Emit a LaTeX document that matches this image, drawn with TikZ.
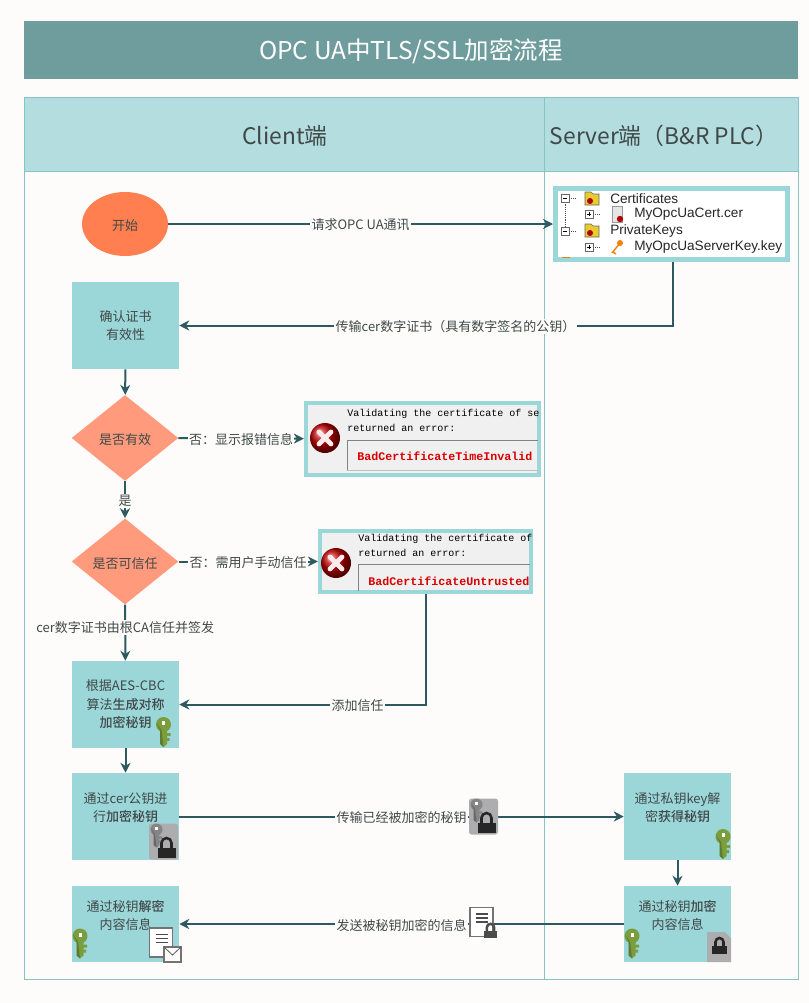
\documentclass[tikz,border=0pt]{standalone}
\usepackage{fontspec}
\setmainfont{Noto Sans CJK SC}[BoldFont={Noto Sans CJK SC Medium}]
\newfontfamily\errfont{Liberation Mono}
\newfontfamily\treefont{Liberation Sans}
\usetikzlibrary{arrows.meta,shapes.geometric}

\definecolor{bgc}{HTML}{FDFCFB}
\definecolor{titlec}{HTML}{6F9C9C}
\definecolor{headc}{HTML}{B4DDE0}
\definecolor{linec}{HTML}{86C4C6}
\definecolor{boxc}{HTML}{9BD6D8}
\definecolor{startc}{HTML}{FF7F50}
\definecolor{diac}{HTML}{FF9B7C}
\definecolor{connc}{HTML}{2C5A60}
\definecolor{txtc}{HTML}{404848}
\definecolor{keyc}{HTML}{7A9E3E}
\definecolor{tilec}{HTML}{ADADB0}
\definecolor{errc}{HTML}{F0F0F0}
\definecolor{errline}{HTML}{80848A}

\tikzset{
        downtxt/.style={execute at begin node={\rule{0pt}{#1}}},
        lab/.style={fill=bgc,inner sep=1pt,text=txtc,yshift=-0.8pt,font=\fontsize{9.75}{12}\selectfont},
        conn/.style={draw=connc,line width=1.5pt,-{Stealth[length=7.5pt,width=7.5pt]}},
        procbox/.style={fill=boxc,text=txtc,align=center,inner sep=0pt,minimum width=80.25pt,downtxt=10.8pt,font=\fontsize{9.75}{13.8}\selectfont},
        dec/.style={diamond,fill=diac,text=txtc,aspect=1.23,inner sep=0pt,minimum width=80pt,minimum height=64.5pt,downtxt=10.8pt,font=\fontsize{9.75}{12}\selectfont},
        imgbox/.style={draw=boxc,line width=3pt,inner sep=0pt},
        headtxt/.style={text=txtc,font=\fontsize{17.1}{20}\selectfont},
        errtxt/.style={anchor=west,inner sep=0pt,font=\errfont\fontsize{7.5}{9}\selectfont},
        errred/.style={anchor=west,inner sep=0pt,text=red!85!black,font=\errfont\bfseries\fontsize{8.75}{10}\selectfont},
        treetxt/.style={anchor=west,inner sep=0pt,text=black!85,font=\treefont\fontsize{10.2}{11}\selectfont},
        pics/keyicon/.style={code={
                \fill[#1] (0,-7.5) circle (7.5);
                \fill[#1] (-3.5,-2) -- (3.5,-2) -- (3.5,12) -- (0,15) -- (-3.5,12) -- cycle;
                \fill[#1] (3,1) rectangle (7,4) (3,6) rectangle (6,9);
                \fill[black,opacity=0.22] (-7,-9) -- (-3.5,-2) -- (-3.5,12) -- (0,15) -- (-2,-2) -- cycle;
                \fill[white] (-1.5,-11) rectangle (1.5,-7);
        }},
        pics/lockicon/.style={code={
                \draw[#1,line width=1.9pt] (-5,0) -- (-5,-5) arc (180:360:5) -- (5,0);
                \fill[#1] (-9,0) rectangle (9,10);
        }},
        pics/lockkey/.style={code={
                \fill[tilec,rounded corners=2pt] (-14.5,-18) rectangle (14.5,18);
                \pic[scale=0.8] at (-7,-6) {keyicon=black!48};
                \pic at (3,6.5) {lockicon=black!85};
        }},
        pics/docicon/.style={code={
                \draw[fill=white,draw=black!55,line width=0.9pt] (-12,-14.5) rectangle (11,14.5);
                \foreach \y in {-8,-4,0}
                \draw[black!70,line width=1pt] (-6,\y) -- (6,\y);
        }},
        pics/erricon/.style={code={
                \shade[ball color=red!75!black] (0,0) circle (15);
                \draw[white!92!red,line width=3.6pt,line cap=round] (-6,-6) -- (6,6) (-6,6) -- (6,-6);
        }},
        pics/foldicon/.style={code={
                \fill[yellow!60!brown,draw=black!60,line width=0.4pt] (-7,-7) -- (-1,-7) -- (1,-5) -- (7,-5) -- (7,6) -- (-7,6) -- cycle;
                \fill[red!70!black] (-2,2) circle (3);
        }},
        pics/expandbox/.style={code={
                \draw[black!60,fill=white,line width=0.4pt] (-4,-4) rectangle (4,4);
                \draw[black,line width=0.4pt] (-2,0) -- (2,0) #1;
                \draw[black!70,densely dotted,line width=0.4pt] (4,0) -- (10,0);
        }},
}

\begin{document}
\begin{tikzpicture}[x=0.75pt,y=-0.75pt]
        \useasboundingbox (0,0) rectangle (809,1003);
        \fill[bgc] (0,0) rectangle (809,1003);

        \node[fill=titlec,text=white,inner sep=0pt,minimum width=580.5pt,minimum height=43.5pt,downtxt=19pt,font=\fontsize{18.4}{22}\selectfont] (title) at (411,49.5) {OPC UA中TLS/SSL加密流程};

        \fill[headc] (24,97) rectangle (798,171);
        \draw[linec,line width=0.75pt] (24,97) rectangle (798,979);
        \draw[linec,line width=0.75pt] (24,171) -- (798,171);
        \draw[linec,line width=0.75pt] (544.5,97) -- (544.5,979);
        \node[headtxt] (clienthead) at (285,136) {Client端};
        \node[headtxt] (serverhead) at (664,136) {Server端（B\&R PLC）};

        \node[ellipse,fill=startc,text=txtc,inner sep=0pt,minimum width=64.5pt,minimum height=48pt,downtxt=10.8pt,font=\fontsize{9.75}{12}\selectfont] (start) at (125,224) {开始};
        \node[imgbox,fill=white,draw=boxc,line width=3.75pt,minimum width=174pt,minimum height=53.25pt] (certbox) at (671.5,224) {};
        \node[procbox,minimum height=65.25pt] (checkcert) at (125.5,325.5) {确认证书\\有效性};
        \node[dec] (validdec) at (125,438) {是否有效};
        \node[imgbox,fill=errc,minimum width=175pt,minimum height=54pt] (errtime) at (422.5,439) {};
        \node[dec] (trustdec) at (125,561.5) {是否可信任};
        \node[imgbox,fill=errc,minimum width=158.5pt,minimum height=46pt] (erruntrust) at (425.5,561.5) {};
        \node[procbox,minimum height=65.25pt] (genkey) at (125.5,704.5) {根据AES-CBC\\算法\textbf{生成对称}\\\textbf{加密秘钥}};
        \node[procbox,minimum height=65.25pt] (enckey) at (125.5,816.5) {通过cer公钥进\\行\textbf{加密秘钥}\\~};
        \node[procbox,minimum height=57pt] (decmsg) at (125.5,924) {通过秘钥\textbf{解密}\\内容信息\\~};
        \node[procbox,minimum height=65.25pt] (deckey) at (677.5,816.5) {通过私钥key解\\密\textbf{获得秘钥}\\~};
        \node[procbox,minimum height=57pt] (encmsg) at (677.5,924) {通过秘钥\textbf{加密}\\内容信息\\~};

        \draw[conn] (start) -- node[lab] (lreq) {请求OPC UA通讯} (certbox);
        \draw[conn] ([xshift=0.75pt]certbox.south) |- node[lab,pos=0.72] (lcert) {传输cer数字证书（具有数字签名的公钥）} (checkcert);
        \draw[conn] (checkcert) -- (validdec);
        \draw[conn] (validdec) -- node[lab] (lerra) {否：显示报错信息} (errtime);
        \draw[conn] (validdec) -- node[lab] (lyes) {是} (trustdec);
        \draw[conn] (trustdec) -- node[lab] (lerrb) {否：需用户手动信任} (erruntrust);
        \draw[conn] (trustdec) -- node[lab,pos=0.39] (lca) {cer数字证书由根CA信任并签发} (genkey);
        \draw[conn] (erruntrust.south) |- node[lab,pos=0.638] (ladd) {添加信任} (genkey);
        \draw[conn] (genkey) -- (enckey);
        \draw[conn] (enckey) -- node[lab] (lsend) {传输已经被加密的秘钥} (deckey);
        \draw[conn] (deckey) -- (encmsg);
        \draw[conn] (encmsg) -- node[lab] (lmsg) {发送被秘钥加密的信息} (decmsg);

        \pic at (483.5,816.5) {lockkey};
        \pic at (482,922) {docicon};
        \pic[scale=0.72] at (490.5,931) {lockicon=black!70};
        \pic at (163.5,732) {keyicon=keyc};
        \pic at (163.5,841.5) {lockkey};
        \pic at (80,943.5) {keyicon=keyc};
        \pic at (161.5,942.5) {docicon};
        \fill[bgc,draw=black!55,line width=0.9pt] (164,947) rectangle (181,962);
        \draw[black!65,line width=0.6pt] (164,947) -- (172.5,955) -- (181,947);
        \pic at (723,844) {keyicon=keyc};
        \pic at (632,943.5) {keyicon=keyc};
        \fill[tilec] (707,932) -- (725,932) -- (731,938) -- (731,962) -- (707,962) -- cycle;
        \pic[scale=0.8] at (719.5,946) {lockicon=black!85};

        \draw[errline,line width=0.75pt] (347,470) -- (347,440) -- (538,440);
        \draw[black!25,line width=0.75pt] (347,470) -- (538,470);
        \pic at (325,438) {erricon};
        \node[errtxt] (erra) at (347,413.5) {Validating the certificate of se};
        \node[errtxt] (errb) at (347,427.5) {returned an error:};
        \node[errred] (errc) at (357,456) {BadCertificateTimeInvalid};

        \draw[errline,line width=0.75pt] (358,591) -- (358,564.5) -- (530,564.5);
        \pic at (336,563) {erricon};
        \node[errtxt] (errd) at (358,538.5) {Validating the certificate of};
        \node[errtxt] (erre) at (358,552.5) {returned an error:};
        \node[errred] (errf) at (368,581) {BadCertificateUntrusted};

        \draw[black!70,densely dotted,line width=0.4pt] (565,198) -- (565,231);
        \pic at (565,198) {expandbox};
        \pic at (589,214) {expandbox={(0,-2) -- (0,2)}};
        \pic at (565,231) {expandbox};
        \pic at (589,247) {expandbox={(0,-2) -- (0,2)}};
        \pic at (592,199) {foldicon};
        \pic at (592,231) {foldicon};
        \fill[black!10,draw=black!40,line width=0.4pt] (612,206) rectangle (622,222);
        \fill[red!70!black] (620,219) circle (3.2);
        \fill[orange!85!brown] (620,243) circle (3);
        \draw[orange!85!brown,line width=1.1pt] (620,243) -- (612,253) (613,252) -- (616,254);
        \fill[orange!70!brown] (562,256.5) rectangle (570,257.5);
        \node[treetxt] (treea) at (610,198.5) {Certificates};
        \node[treetxt] (treeb) at (634,214.5) {MyOpcUaCert.cer};
        \node[treetxt] (treec) at (610,230.5) {PrivateKeys};
        \node[treetxt] (treed) at (634,246.5) {MyOpcUaServerKey.key};
\end{tikzpicture}
\end{document}
